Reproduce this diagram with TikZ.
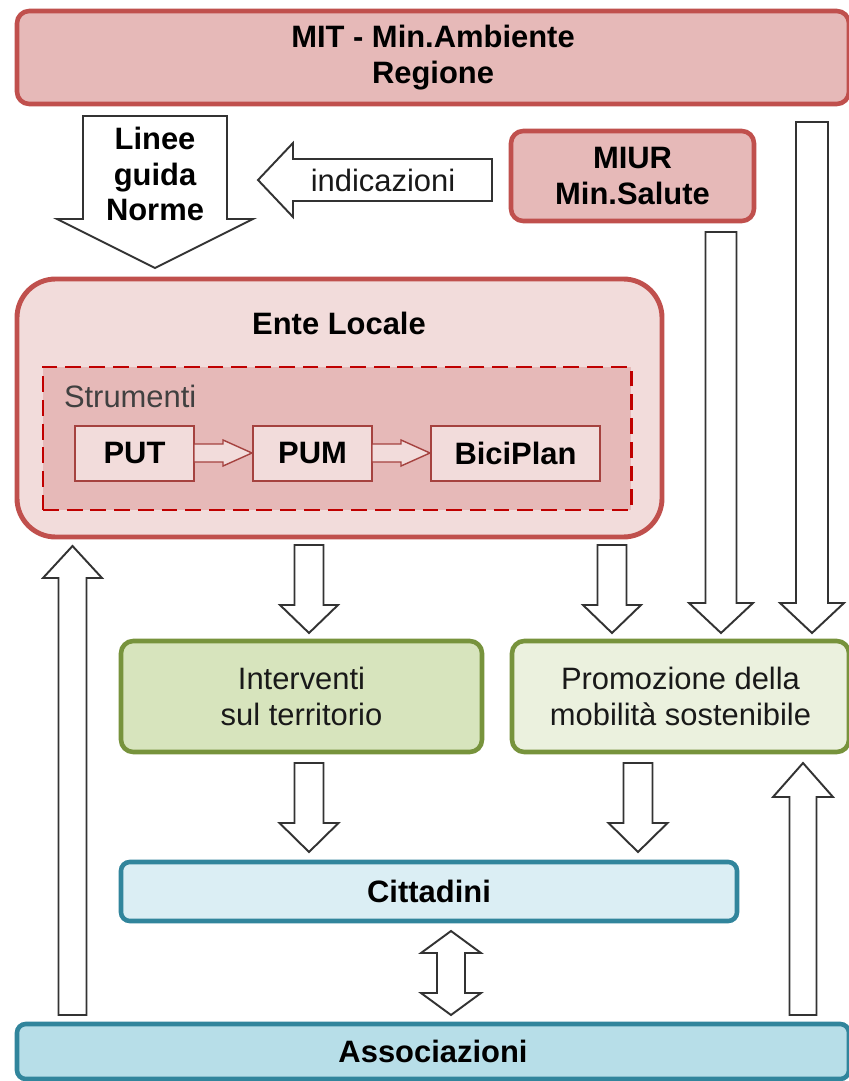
\documentclass[tikz,border=0pt]{standalone}
\usepackage{fontspec}
\setmainfont{Liberation Sans}
\usetikzlibrary{calc}
\newlength\ux \setlength\ux{0.02cm}
\definecolor{redfill}{HTML}{E6B9B8}
\definecolor{redline}{HTML}{C0504D}
\definecolor{pinkfill}{HTML}{F2DCDB}
\definecolor{dashred}{HTML}{C00000}
\definecolor{smallline}{HTML}{A5423F}
\definecolor{greenfillA}{HTML}{D7E4BD}
\definecolor{greenfillB}{HTML}{EBF1DE}
\definecolor{greenline}{HTML}{77933C}
\definecolor{bluefillA}{HTML}{DBEEF4}
\definecolor{bluefillB}{HTML}{B7DEE8}
\definecolor{blueline}{HTML}{31859C}
\definecolor{strumgray}{HTML}{404040}
\tikzset{
  btext/.style={font=\bfseries\fontsize{17.6}{20.4}\selectfont, inner sep=0pt, outer sep=0pt, align=center, text=black},
  rtext/.style={font=\fontsize{17.6}{20.4}\selectfont, inner sep=0pt, outer sep=0pt, align=center, text=black!90},
  boxbase/.style={rectangle, inner sep=0pt, outer sep=0pt},
  redbox/.style={boxbase, btext, fill=redfill, draw=redline, line width=2.6pt, rounded corners=7pt},
  entebox/.style={boxbase, fill=pinkfill, draw=redline, line width=2.8pt, rounded corners=22pt},
  strumbox/.style={boxbase, fill=redfill, draw=dashred, line width=1.7pt, dash pattern=on 9pt off 4.5pt},
  smallbox/.style={boxbase, btext, fill=pinkfill, draw=smallline, line width=0.8pt},
  greenbox/.style={boxbase, rtext, draw=greenline, line width=2.6pt, rounded corners=7pt},
  bluebox/.style={boxbase, btext, draw=blueline, line width=2.6pt, rounded corners=5pt},
  barrow/.style={draw=black!80, fill=white, line width=1.1pt, line join=miter},
  smallarrow/.style={draw=smallline, fill=pinkfill, line width=0.8pt, line join=miter}
}
% down arrow: x, tail anchor, gap, tip anchor, gap, shaft half, head half, head length
\newcommand\darrow[8]{\draw[barrow] let \p1=(#2), \p2=(#4), \n1={\y1-(#3)*\ux}, \n2={\y2+(#5)*\ux}, \n3={\y2+(#5+#8)*\ux} in
  ({(#1-#6)*\ux},\n1) -- ({(#1+#6)*\ux},\n1) -- ({(#1+#6)*\ux},\n3) -- ({(#1+#7)*\ux},\n3) -- ({(#1)*\ux},\n2) -- ({(#1-#7)*\ux},\n3) -- ({(#1-#6)*\ux},\n3) -- cycle;}
% up arrow
\newcommand\uarrow[8]{\draw[barrow] let \p1=(#2), \p2=(#4), \n1={\y1+(#3)*\ux}, \n2={\y2-(#5)*\ux}, \n3={\y2-(#5+#8)*\ux} in
  ({(#1-#6)*\ux},\n1) -- ({(#1+#6)*\ux},\n1) -- ({(#1+#6)*\ux},\n3) -- ({(#1+#7)*\ux},\n3) -- ({(#1)*\ux},\n2) -- ({(#1-#7)*\ux},\n3) -- ({(#1-#6)*\ux},\n3) -- cycle;}
% up-down arrow: x, top anchor, gap, bottom anchor, gap, shaft half, head half, head length
\newcommand\udarrow[8]{\draw[barrow] let \p1=(#2), \p2=(#4), \n1={\y1-(#3)*\ux}, \n2={\y1-(#3+#8)*\ux}, \n3={\y2+(#5)*\ux}, \n4={\y2+(#5+#8)*\ux} in
  ({(#1)*\ux},\n1) -- ({(#1+#7)*\ux},\n2) -- ({(#1+#6)*\ux},\n2) -- ({(#1+#6)*\ux},\n4) -- ({(#1+#7)*\ux},\n4) -- ({(#1)*\ux},\n3) -- ({(#1-#7)*\ux},\n4) -- ({(#1-#6)*\ux},\n4) -- ({(#1-#6)*\ux},\n2) -- ({(#1-#7)*\ux},\n2) -- cycle;}
% left arrow: y, tail anchor, gap, tip anchor, gap, shaft half, head half, head length
\newcommand\larrow[8]{\draw[barrow] let \p1=(#2), \p2=(#4), \n1={\x1-(#3)*\ux}, \n2={\x2+(#5)*\ux}, \n3={\x2+(#5+#8)*\ux} in
  (\n1,{-(#1-#6)*\ux}) -- (\n1,{-(#1+#6)*\ux}) -- (\n3,{-(#1+#6)*\ux}) -- (\n3,{-(#1+#7)*\ux}) -- (\n2,{-(#1)*\ux}) -- (\n3,{-(#1-#7)*\ux}) -- (\n3,{-(#1-#6)*\ux}) -- cycle;}
% right arrow (small)
\newcommand\rarrow[8]{\draw[smallarrow] let \p1=(#2), \p2=(#4), \n1={\x1+(#3)*\ux}, \n2={\x2-(#5)*\ux}, \n3={\x2-(#5+#8)*\ux} in
  (\n1,{-(#1-#6)*\ux}) -- (\n1,{-(#1+#6)*\ux}) -- (\n3,{-(#1+#6)*\ux}) -- (\n3,{-(#1+#7)*\ux}) -- (\n2,{-(#1)*\ux}) -- (\n3,{-(#1-#7)*\ux}) -- (\n3,{-(#1-#6)*\ux}) -- cycle;}
\begin{document}
\begin{tikzpicture}[x=0.02cm, y=-0.02cm]
\useasboundingbox[fill=white] (0,0) rectangle (848,1081);
% boxes
\node[redbox, minimum width=832*\ux, minimum height=93*\ux] (mit) at (433,57.5) {MIT - Min.Ambiente\\Regione};
\node[redbox, minimum width=243*\ux, minimum height=90*\ux] (miur) at (632.5,176) {MIUR\\Min.Salute};
\node[entebox, minimum width=645*\ux, minimum height=258*\ux] (ente) at (339.5,408) {};
\node[btext] (entet) at (339,323) {Ente Locale};
\node[strumbox, minimum width=588*\ux, minimum height=143*\ux] (strum) at (337,438.5) {};
\node[rtext, text=strumgray, anchor=west] (strt) at (64,396) {Strumenti};
\node[smallbox, minimum width=119*\ux, minimum height=55*\ux] (put) at (134.5,453.5) {PUT};
\node[smallbox, minimum width=119*\ux, minimum height=55*\ux] (pum) at (312.5,453.5) {PUM};
\node[smallbox, minimum width=169*\ux, minimum height=55*\ux] (bici) at (515.5,453.5) {BiciPlan};
\node[greenbox, fill=greenfillA, minimum width=361*\ux, minimum height=111*\ux] (interv) at (301.5,696.5) {Interventi\\sul territorio};
\node[greenbox, fill=greenfillB, minimum width=337*\ux, minimum height=111*\ux] (prom) at (680.5,696.5) {Promozione della\\mobilit\`a sostenibile};
\node[bluebox, fill=bluefillA, minimum width=616*\ux, minimum height=59*\ux] (citt) at (429,891.5) {Cittadini};
\node[bluebox, fill=bluefillB, minimum width=832*\ux, minimum height=55*\ux] (assoc) at (433,1051.5) {Associazioni};
% small arrows
\rarrow{453}{put.east}{0}{pum.west}{1}{9}{13}{29}
\rarrow{453}{pum.east}{0}{bici.west}{1}{9}{13}{29}
% block arrows
\darrow{155}{mit.south}{12}{ente.north}{11}{72}{98}{49}
\node[btext, minimum width=145*\ux] (lg) at (155,174) {Linee\\guida\\Norme};
\larrow{180}{miur.west}{19}{lg.east}{30.5}{21}{37}{35}
\node[rtext] (ind) at (383,180) {indicazioni};
\darrow{812}{mit.south}{18}{prom.north}{8}{16}{32}{30}
\darrow{721}{miur.south}{11}{prom.north}{8}{15.5}{32}{30}
\darrow{309}{ente.south}{8}{interv.north}{8}{14.5}{29}{28}
\darrow{612}{ente.south}{8}{prom.north}{8}{14.5}{29}{28}
\darrow{309}{interv.south}{11}{citt.north}{10}{14.5}{29.5}{29}
\darrow{638}{prom.south}{11}{citt.north}{10}{14.5}{29.5}{29}
\uarrow{72.5}{assoc.north}{9}{ente.south}{9}{14}{29.5}{32}
\uarrow{803}{assoc.north}{9}{prom.south}{11}{13.5}{30}{34}
\udarrow{451}{citt.south}{10}{assoc.north}{9}{14}{30}{22}
\end{tikzpicture}
\end{document}
